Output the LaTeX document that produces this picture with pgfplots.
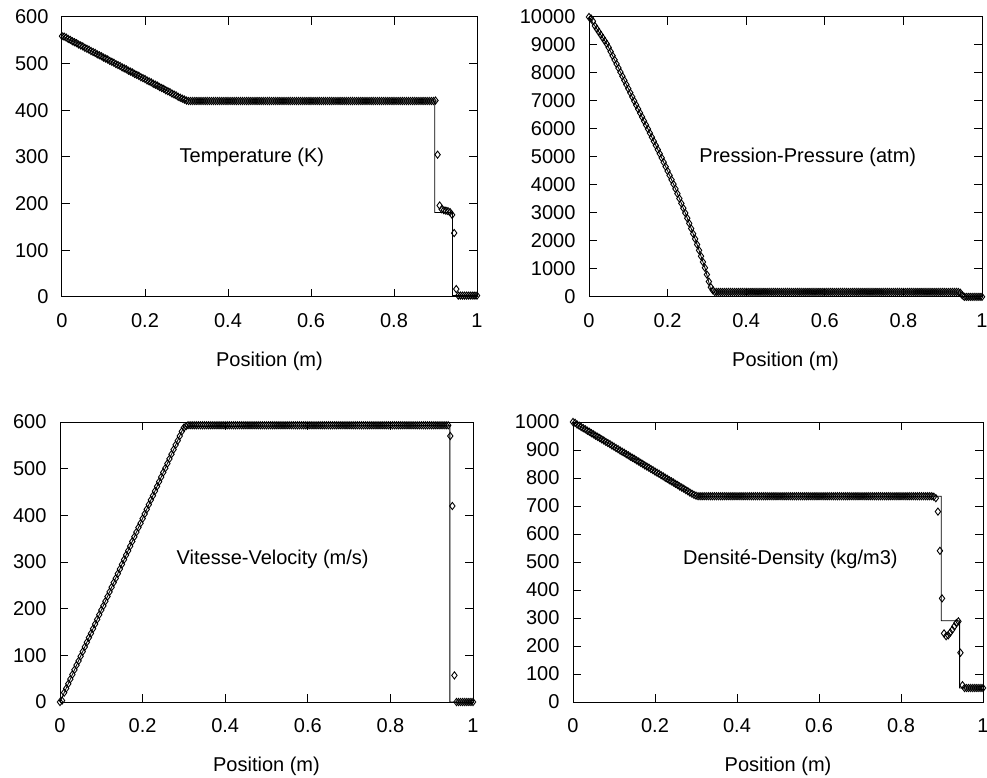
\documentclass[border=0pt]{standalone}
\usepackage{fontspec}
\setmainfont{Liberation Sans}
\usepackage{pgfplots}
\usepackage{pgfplotstable}
\pgfplotsset{compat=1.18}
\pgfplotstableread{
x T P U R
0.000 559 10000 0 1000
0.005 558 9950 3 997
0.010 556 9850 20 991
0.015 553 9681 29 987
0.020 551 9574 39 982
0.025 548 9468 49 978
0.030 546 9362 59 974
0.035 544 9255 69 969
0.040 541 9149 79 965
0.045 539 9043 88 960
0.050 537 8912 98 956
0.055 534 8765 108 951
0.060 532 8618 118 947
0.065 530 8471 128 943
0.070 527 8324 138 938
0.075 525 8176 147 934
0.080 523 8029 157 929
0.085 520 7882 167 925
0.090 518 7735 177 921
0.095 516 7588 187 916
0.100 513 7441 197 912
0.105 511 7294 206 907
0.110 509 7147 216 903
0.115 506 7000 226 898
0.120 504 6857 236 894
0.125 502 6714 246 890
0.130 499 6571 256 885
0.135 497 6429 265 881
0.140 495 6286 275 876
0.145 492 6143 285 872
0.150 490 6000 295 868
0.155 488 5853 305 863
0.160 485 5706 315 859
0.165 483 5559 324 854
0.170 481 5412 334 850
0.175 478 5265 344 845
0.180 476 5118 354 841
0.185 474 4969 364 837
0.190 471 4813 374 832
0.195 469 4656 383 828
0.200 467 4500 393 823
0.205 464 4344 403 819
0.210 462 4188 413 815
0.215 460 4031 423 810
0.220 457 3862 433 806
0.225 455 3690 442 801
0.230 453 3517 452 797
0.235 450 3345 462 792
0.240 448 3172 472 788
0.245 446 3000 482 784
0.250 443 2815 492 779
0.255 441 2630 501 775
0.260 439 2444 511 770
0.265 436 2259 521 766
0.270 434 2074 531 762
0.275 432 1875 541 757
0.280 429 1667 551 753
0.285 427 1458 560 748
0.290 425 1250 570 744
0.295 423 1042 580 740
0.300 421 800 588 737
0.305 420 550 591 735
0.310 420 350 593 735
0.315 420 240 593 735
0.320 420 180 593 735
0.325 420 180 593 735
0.330 420 180 593 735
0.335 420 180 593 735
0.340 420 180 593 735
0.345 420 180 593 735
0.350 420 180 593 735
0.355 420 180 593 735
0.360 420 180 593 735
0.365 420 180 593 735
0.370 420 180 593 735
0.375 420 180 593 735
0.380 420 180 593 735
0.385 420 180 593 735
0.390 420 180 593 735
0.395 420 180 593 735
0.400 420 180 593 735
0.405 420 180 593 735
0.410 420 180 593 735
0.415 420 180 593 735
0.420 420 180 593 735
0.425 420 180 593 735
0.430 420 180 593 735
0.435 420 180 593 735
0.440 420 180 593 735
0.445 420 180 593 735
0.450 420 180 593 735
0.455 420 180 593 735
0.460 420 180 593 735
0.465 420 180 593 735
0.470 420 180 593 735
0.475 420 180 593 735
0.480 420 180 593 735
0.485 420 180 593 735
0.490 420 180 593 735
0.495 420 180 593 735
0.500 420 180 593 735
0.505 420 180 593 735
0.510 420 180 593 735
0.515 420 180 593 735
0.520 420 180 593 735
0.525 420 180 593 735
0.530 420 180 593 735
0.535 420 180 593 735
0.540 420 180 593 735
0.545 420 180 593 735
0.550 420 180 593 735
0.555 420 180 593 735
0.560 420 180 593 735
0.565 420 180 593 735
0.570 420 180 593 735
0.575 420 180 593 735
0.580 420 180 593 735
0.585 420 180 593 735
0.590 420 180 593 735
0.595 420 180 593 735
0.600 420 180 593 735
0.605 420 180 593 735
0.610 420 180 593 735
0.615 420 180 593 735
0.620 420 180 593 735
0.625 420 180 593 735
0.630 420 180 593 735
0.635 420 180 593 735
0.640 420 180 593 735
0.645 420 180 593 735
0.650 420 180 593 735
0.655 420 180 593 735
0.660 420 180 593 735
0.665 420 180 593 735
0.670 420 180 593 735
0.675 420 180 593 735
0.680 420 180 593 735
0.685 420 180 593 735
0.690 420 180 593 735
0.695 420 180 593 735
0.700 420 180 593 735
0.705 420 180 593 735
0.710 420 180 593 735
0.715 420 180 593 735
0.720 420 180 593 735
0.725 420 180 593 735
0.730 420 180 593 735
0.735 420 180 593 735
0.740 420 180 593 735
0.745 420 180 593 735
0.750 420 180 593 735
0.755 420 180 593 735
0.760 420 180 593 735
0.765 420 180 593 735
0.770 420 180 593 735
0.775 420 180 593 735
0.780 420 180 593 735
0.785 420 180 593 735
0.790 420 180 593 735
0.795 420 180 593 735
0.800 420 180 593 735
0.805 420 180 593 735
0.810 420 180 593 735
0.815 420 180 593 735
0.820 420 180 593 735
0.825 420 180 593 735
0.830 420 180 593 735
0.835 420 180 593 735
0.840 420 180 593 735
0.845 420 180 593 735
0.850 420 180 593 735
0.855 420 180 593 735
0.860 420 180 593 735
0.865 420 180 593 735
0.870 420 180 593 735
0.875 420 180 593 735
0.880 420 180 593 733
0.885 420 180 593 728
0.890 420 180 593 680
0.895 420 180 593 540
0.900 421 180 593 370
0.905 305 180 593 245
0.910 196 180 593 235
0.915 188 180 593 238
0.920 186 180 593 248
0.925 185 180 593 258
0.930 184 180 593 270
0.935 182 180 593 282
0.940 176 178 593 288
0.945 137 150 570 176
0.950 17 60 420 60
0.955 3 5 57 50
0.960 3 5 0 50
0.965 3 5 0 50
0.970 3 5 0 50
0.975 3 5 0 50
0.980 3 5 0 50
0.985 3 5 0 50
0.990 3 5 0 50
0.995 3 5 0 50
1.000 3 5 0 50
}\data

\pgfplotsset{
  myax/.style={
    scale only axis, anchor=south west,
    xmin=0, xmax=1, xtick={0,0.2,0.4,0.6,0.8,1},
    scaled ticks=false,
    tick align=inside, major tick length=8pt,
    axis line style={line width=1pt},
    every tick/.style={black,line width=1pt},
    tick label style={font=\fontsize{20}{24}\selectfont},
    yticklabel style={xshift=-10pt},
    xticklabel style={yshift=-13pt},
    /pgf/number format/assume math mode=true,
    /pgf/number format/set thousands separator={},
    xlabel={Position (m)},
    every axis x label/.style={at={(axis description cs:0.5,0)},anchor=center,yshift=-64pt,font=\fontsize{20}{24}\selectfont},
    clip=false,
  },
  exact/.style={black, line width=0.8pt, no marks},
  num/.style={only marks, mark=diamond, mark size=3.6pt, mark options={solid, black, line width=0.9pt}},
}

\begin{document}
\begin{tikzpicture}
\useasboundingbox (0,0) rectangle (987pt,777pt);

% Temperature
\begin{axis}[myax, at={(62pt,480pt)}, width=415pt, height=280pt,
  ymin=0, ymax=600, ytick={0,100,...,600}]
\addplot[exact] coordinates {(0,560) (0.3,420) (0.898,420) (0.898,181) (0.941,181) (0.941,3) (1,3)};
\addplot[num] table[x=x,y=T]{\data};
\node[anchor=west, font=\fontsize{20}{24}\selectfont] at (rel axis cs:0.275,0.5) {Temperature (K)};
\end{axis}

% Pressure
\begin{axis}[myax, at={(589pt,480pt)}, width=393pt, height=280pt,
  ymin=0, ymax=10000, ytick={0,1000,...,10000}]
\addplot[exact] coordinates {(0,10000) (0.047,9000) (0.081,8000) (0.115,7000) (0.150,6000) (0.184,5000) (0.216,4000) (0.245,3000) (0.272,2000) (0.296,1000) (0.31,250) (0.315,180) (0.946,180) (0.946,5) (1,5)};
\addplot[num] table[x=x,y=P]{\data};
\node[anchor=west, font=\fontsize{20}{24}\selectfont] at (rel axis cs:0.272,0.5) {Pression-Pressure (atm)};
\end{axis}

% Velocity
\begin{axis}[myax, at={(60pt,75pt)}, width=413pt, height=280pt,
  ymin=0, ymax=600, ytick={0,100,...,600}]
\addplot[exact] coordinates {(0,0) (0.3,590) (0.944,593) (0.944,0) (1,0)};
\addplot[num] table[x=x,y=U]{\data};
\node[anchor=west, font=\fontsize{20}{24}\selectfont] at (rel axis cs:0.274,0.51) {Vitesse-Velocity (m/s)};
\end{axis}

% Density
\begin{axis}[myax, at={(573pt,75pt)}, width=410pt, height=280pt,
  ymin=0, ymax=1000, ytick={0,100,...,1000}]
\addplot[exact] coordinates {(0,1000) (0.3,735) (0.898,735) (0.898,290) (0.943,290) (0.943,50) (1,50)};
\addplot[num] table[x=x,y=R]{\data};
\node[anchor=west, font=\fontsize{20}{24}\selectfont] at (rel axis cs:0.26,0.51) {Densité-Density (kg/m3)};
\end{axis}
\end{tikzpicture}
\end{document}
